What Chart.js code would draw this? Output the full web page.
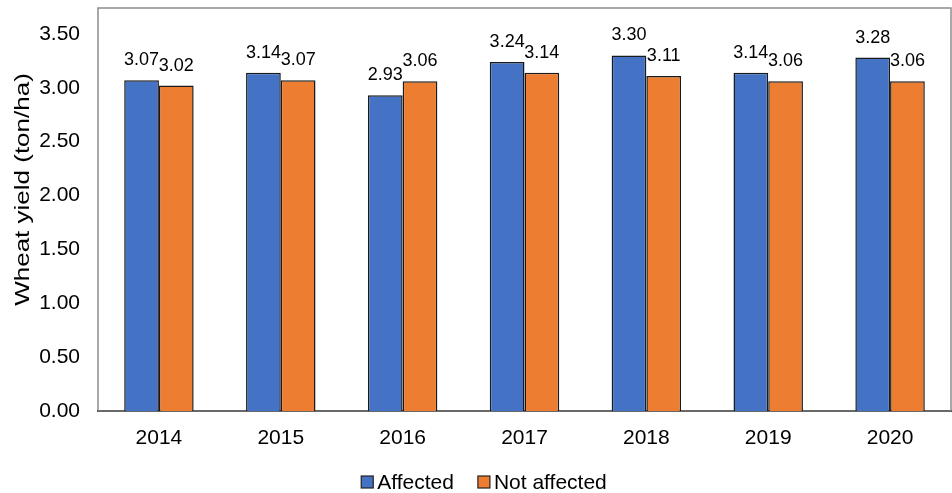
<!DOCTYPE html>
<html>
<head>
<meta charset="utf-8">
<script src="https://cdn.jsdelivr.net/npm/chart.js@4"></script>
<style>
    html, body { margin: 0; padding: 0; background: #fff; }
    #wrap { width: 952px; height: 493px; }
</style>
</head>
<body>
<div id="wrap"><canvas id="chart"></canvas></div>
<script>
const years = ['2014', '2015', '2016', '2017', '2018', '2019', '2020'];
const affected = [3.07, 3.14, 2.93, 3.24, 3.30, 3.14, 3.28];
const notAffected = [3.02, 3.07, 3.06, 3.14, 3.11, 3.06, 3.06];
const yTicks = [0, 0.5, 1, 1.5, 2, 2.5, 3, 3.5];
const yTitle = 'Wheat yield (ton/ha)';

const FONT = '"Liberation Sans", Arial, sans-serif';

// value labels above each bar
const barLabels = {
    id: 'barLabels',
    afterDatasetsDraw(chart) {
        const ctx = chart.ctx;
        ctx.save();
        ctx.font = '18px ' + FONT;
        ctx.fillStyle = '#000';
        ctx.textAlign = 'center';
        ctx.textBaseline = 'middle';
        chart.data.datasets.forEach((ds, i) => {
            chart.getDatasetMeta(i).data.forEach((bar, j) => {
                ctx.fillText(ds.data[j].toFixed(2), bar.x, bar.y - 20);
            });
        });
        ctx.restore();
    }
};

// gray frame around the plot area
const frame = {
    id: 'frame',
    beforeDatasetsDraw(chart) {
        const a = chart.chartArea;
        const ctx = chart.ctx;
        ctx.save();
        ctx.strokeStyle = '#8c8c8c';
        ctx.lineWidth = 1.5;
        ctx.strokeRect(a.left, a.top, a.right - a.left, a.bottom - a.top);
        ctx.restore();
    }
};

// y axis title, a bit stretched along its length like the original
const axisTitle = {
    id: 'axisTitle',
    afterDraw(chart) {
        const ctx = chart.ctx;
        const a = chart.chartArea;
        ctx.save();
        ctx.translate(23, (a.top + a.bottom) / 2 - 20);
        ctx.rotate(-Math.PI / 2);
        ctx.scale(1.3, 1);
        ctx.font = '20px ' + FONT;
        ctx.fillStyle = '#000';
        ctx.textAlign = 'center';
        ctx.textBaseline = 'middle';
        ctx.fillText(yTitle, 0, 0);
        ctx.restore();
    }
};

// legend below the axis
const bottomLegend = {
    id: 'bottomLegend',
    afterDraw(chart) {
        const ctx = chart.ctx;
        ctx.save();
        ctx.font = '21px ' + FONT;
        ctx.textBaseline = 'middle';
        const box = 12, gap = 4, between = 24;
        const items = chart.data.datasets.map(ds => ({
            text: ds.label, color: ds.backgroundColor, w: ctx.measureText(ds.label).width
        }));
        const total = items.reduce((s, it) => s + box + gap + it.w, 0) + between * (items.length - 1);
        let x = (chart.width - total) / 2 + 8;
        const y = 482;
        items.forEach(it => {
            ctx.fillStyle = it.color;
            ctx.fillRect(x, y - box / 2, box, box);
            ctx.strokeStyle = '#222';
            ctx.lineWidth = 1.2;
            ctx.strokeRect(x, y - box / 2, box, box);
            ctx.fillStyle = '#000';
            ctx.fillText(it.text, x + box + gap, y + 1);
            x += box + gap + it.w + between;
        });
        ctx.restore();
    }
};

new Chart(document.getElementById('chart'), {
    type: 'bar',
    data: {
        labels: years,
        datasets: [{
            label: 'Affected',
            data: affected,
            backgroundColor: '#4472C4',
            borderColor: '#1a1a1a',
            borderWidth: 1.5
        }, {
            label: 'Not affected',
            data: notAffected,
            backgroundColor: '#ED7D31',
            borderColor: '#1a1a1a',
            borderWidth: 1.5
        }]
    },
    options: {
        responsive: true,
        maintainAspectRatio: false,
        animation: false,
        layout: { padding: { top: 8, right: 1, left: 0, bottom: 0 } },
        datasets: { bar: { barPercentage: 1, categoryPercentage: 0.57 } },
        plugins: {
            legend: { display: false },
            tooltip: { enabled: false }
        },
        scales: {
            x: {
                grid: { display: false, drawTicks: false },
                border: { display: true, color: '#000', width: 2 },
                ticks: { font: { size: 21, family: FONT }, color: '#000', padding: 15 },
                afterFit(scale) {
                    scale.height = 82;
                    scale.paddingLeft = 0;
                    scale.paddingRight = 0;
                }
            },
            y: {
                min: 0,
                max: 3.74,
                grid: { display: false, drawTicks: false },
                border: { display: false },
                afterBuildTicks(scale) {
                    scale.ticks = yTicks.map(v => ({ value: v }));
                },
                ticks: {
                    font: { size: 21, family: FONT },
                    color: '#000',
                    padding: 18,
                    callback: v => v.toFixed(2)
                },
                afterFit(scale) {
                    scale.width = 98;
                    scale.paddingTop = 0;
                    scale.paddingBottom = 0;
                }
            }
        }
    },
    plugins: [frame, barLabels, axisTitle, bottomLegend]
});
</script>
</body>
</html>
